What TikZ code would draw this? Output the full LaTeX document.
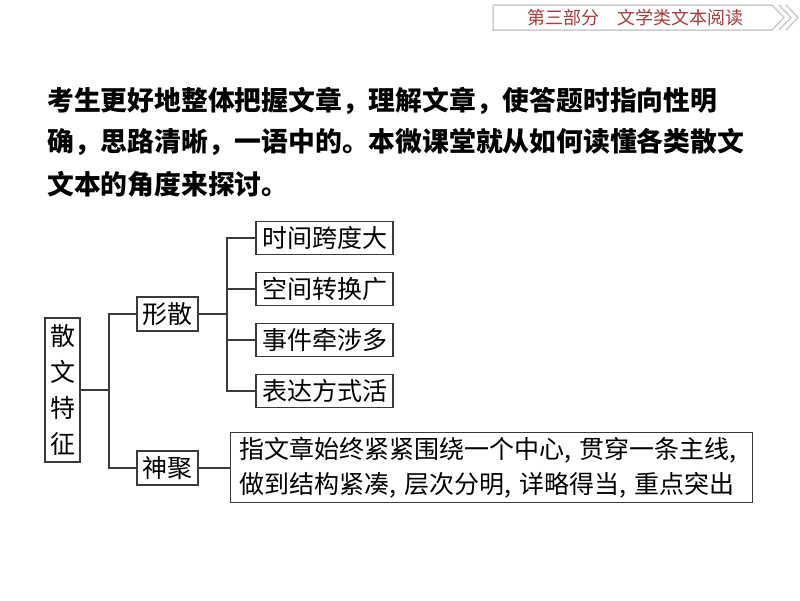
\documentclass[tikz,border=0pt]{standalone}
\usepackage{fontspec}
\newfontfamily\cjk{Noto Sans CJK SC}
\newcommand\hcm{\makebox[15pt][l]{,}}
\definecolor{hdred}{HTML}{A83A3A}
\definecolor{hdgrey}{HTML}{CCCCCC}
\definecolor{boxline}{HTML}{3A3A3A}
\begin{document}
\begin{tikzpicture}[x=1pt,y=-1pt,
  every node/.style={font=\cjk},
  bx/.style={draw=boxline,line width=1.3pt,inner sep=0pt,align=center,
    font=\cjk\fontsize{25pt}{36pt}\selectfont},
  conn/.style={draw=boxline,line width=1.3pt},
  body/.style={anchor=west,inner sep=0pt,font=\cjk\bfseries\fontsize{26.8pt}{32pt}\selectfont}]
\useasboundingbox (0,0) rectangle (800,600);
% header banner
\draw[hdgrey,line width=1.5pt,line join=miter] (493,5) -- (772,5) -- (784,17.5) -- (772,30) -- (493,30) -- cycle;
\draw[hdgrey,line width=1.5pt] (779,5) -- (791,17.5) -- (779,30);
\draw[hdgrey,line width=1.5pt] (786,5) -- (798,17.5) -- (786,30);
\node[anchor=west,inner sep=0pt,text=hdred,font=\cjk\fontsize{18pt}{20pt}\selectfont] (hd) at (527,17.5) {第三部分　文学类文本阅读};
% body text
\node[body] (t1) at (47,101) {考生更好地整体把握文章，理解文章，使答题时指向性明};
\node[body] (t2) at (47,142) {确，思路清晰，一语中的。本微课堂就从如何读懂各类散文};
\node[body] (t3) at (47,184) {文本的角度来探讨。};
% diagram
\node[bx,minimum width=35,minimum height=144] (sw) at (62.5,390) {散\\文\\特\\征};
\node[bx,minimum width=61,minimum height=34] (xs) at (167.5,314) {形散};
\node[bx,minimum width=61,minimum height=34] (sj) at (167.5,468) {神聚};
\node[bx,minimum width=137,minimum height=33] (b1) at (324.5,238) {时间跨度大};
\node[bx,minimum width=137,minimum height=33] (b2) at (324.5,289) {空间转换广};
\node[bx,minimum width=137,minimum height=33] (b3) at (324.5,340) {事件牵涉多};
\node[bx,minimum width=137,minimum height=33] (b4) at (324.5,391) {表达方式活};
\node[bx,align=left,anchor=west,minimum width=522,minimum height=70,inner xsep=6pt,
  font=\cjk\fontsize{25pt}{35pt}\selectfont] (big) at (230,467.5)
  {指文章始终紧紧围绕一个中心\hcm 贯穿一条主线\hcm\\做到结构紧凑\hcm 层次分明\hcm 详略得当\hcm 重点突出};
\coordinate (j1) at (109,390);
\coordinate (j2) at (227,314);
\draw[conn] (sw.east) -- (j1);
\draw[conn] (xs.west) -| (j1);
\draw[conn] (sj.west) -| (j1);
\draw[conn] (xs.east) -- (j2);
\draw[conn] (b1.west) -| (j2);
\draw[conn] (b2.west) -| (j2);
\draw[conn] (b3.west) -| (j2);
\draw[conn] (b4.west) -| (j2);
\draw[conn] (sj.east) -- (sj.east -| big.west);
\end{tikzpicture}
\end{document}
